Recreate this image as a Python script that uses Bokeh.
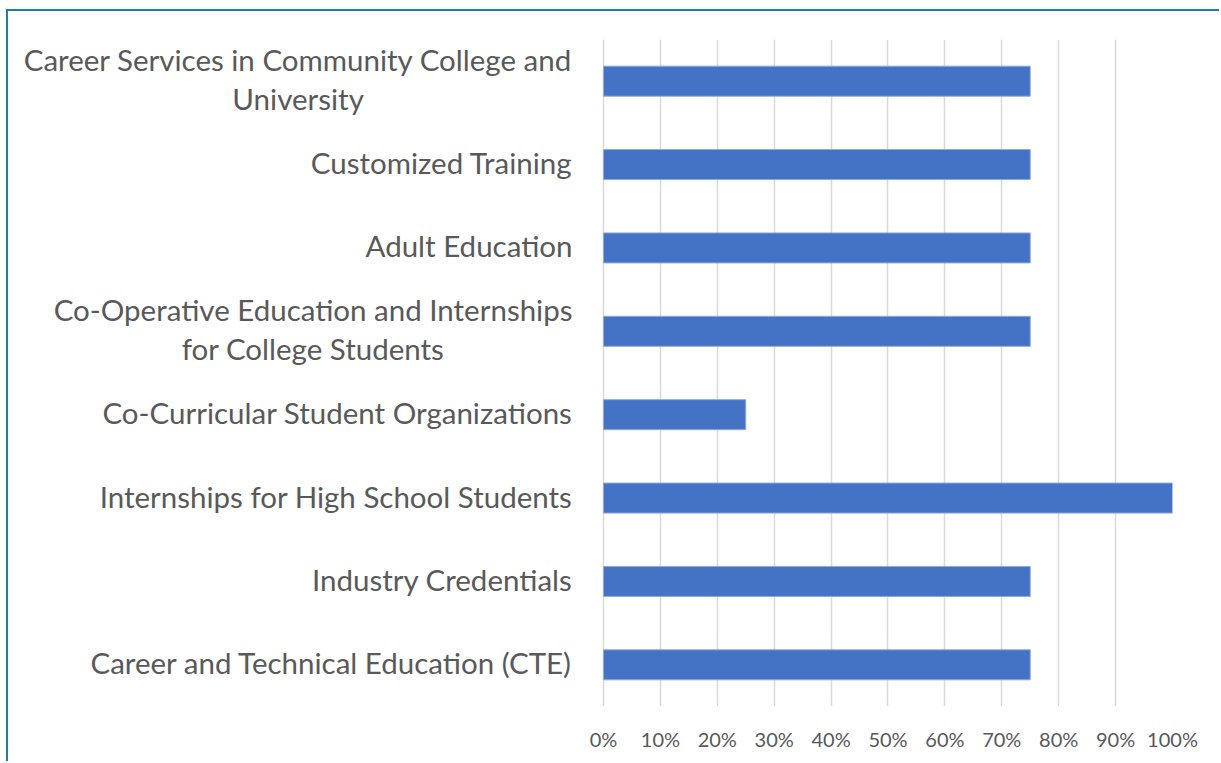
from bokeh.plotting import figure
from bokeh.models import FactorRange, Range1d, NumeralTickFormatter, FixedTicker, ColumnDataSource
from bokeh.core.properties import value
from bokeh.embed import file_html
from bokeh.resources import INLINE

categories = [
    "Career Services in Community College and\nUniversity",
    "Customized Training",
    "Adult Education",
    "Co-Operative Education and Internships\nfor College Students",
    "Co-Curricular Student Organizations",
    "Internships for High School Students",
    "Industry Credentials",
    "Career and Technical Education (CTE)",
]
values = [0.75, 0.75, 0.75, 0.75, 0.25, 1.00, 0.75, 0.75]
x_ticks = [0.0, 0.1, 0.2, 0.3, 0.4, 0.5, 0.6, 0.7, 0.8, 0.9, 1.0]

src = ColumnDataSource(dict(cat=categories, val=values, zero=[0.0] * len(values)))
factors = list(reversed(categories))

# the frame also holds the category labels left of 0
p = figure(
    width=1213, height=752,
    y_range=FactorRange(factors=factors),
    x_range=Range1d(-1.0369, 1),
    output_backend="svg", toolbar_location=None,
    min_border_left=5, min_border_right=49, min_border_top=28, min_border_bottom=57,
)
p.margin = (9, 0, 0, 6)
p.styles = {"border-left": "2px solid #1F7FA3", "border-top": "2px solid #1F7FA3"}

p.hbar(y="cat", right="val", left="zero", height=0.36, source=src,
       fill_color="#4472C4", line_color="#8FAADC", line_width=1)

p.text(x="zero", y="cat", text="cat", source=src, x_offset=-31, y_offset=-2,
       anchor=value("center_right"), text_align=value("center"),
       text_baseline=value("middle"),
       text_font=value("Lato"), text_font_size=value("29.5px"), text_color="#595959",
       text_line_height=1.12)

p.outline_line_color = None
p.background_fill_color = "white"
p.border_fill_color = "white"

p.ygrid.grid_line_color = None
p.xgrid.grid_line_color = "#D9D9D9"
p.xgrid.grid_line_width = 1.5
p.xaxis.ticker = FixedTicker(ticks=x_ticks)
p.xaxis.formatter = NumeralTickFormatter(format="0%")

p.xaxis.axis_line_color = None
p.xaxis.major_tick_line_color = None
p.xaxis.minor_tick_line_color = None
p.xaxis.major_tick_out = 0
p.xaxis.major_tick_in = 0
p.xaxis.major_label_text_color = "#595959"
p.xaxis.major_label_text_font = "Lato"
p.xaxis.major_label_text_font_size = "20px"
p.xaxis.major_label_standoff = 20

p.yaxis.visible = False

open("out.html", "w").write(file_html(p, INLINE))
